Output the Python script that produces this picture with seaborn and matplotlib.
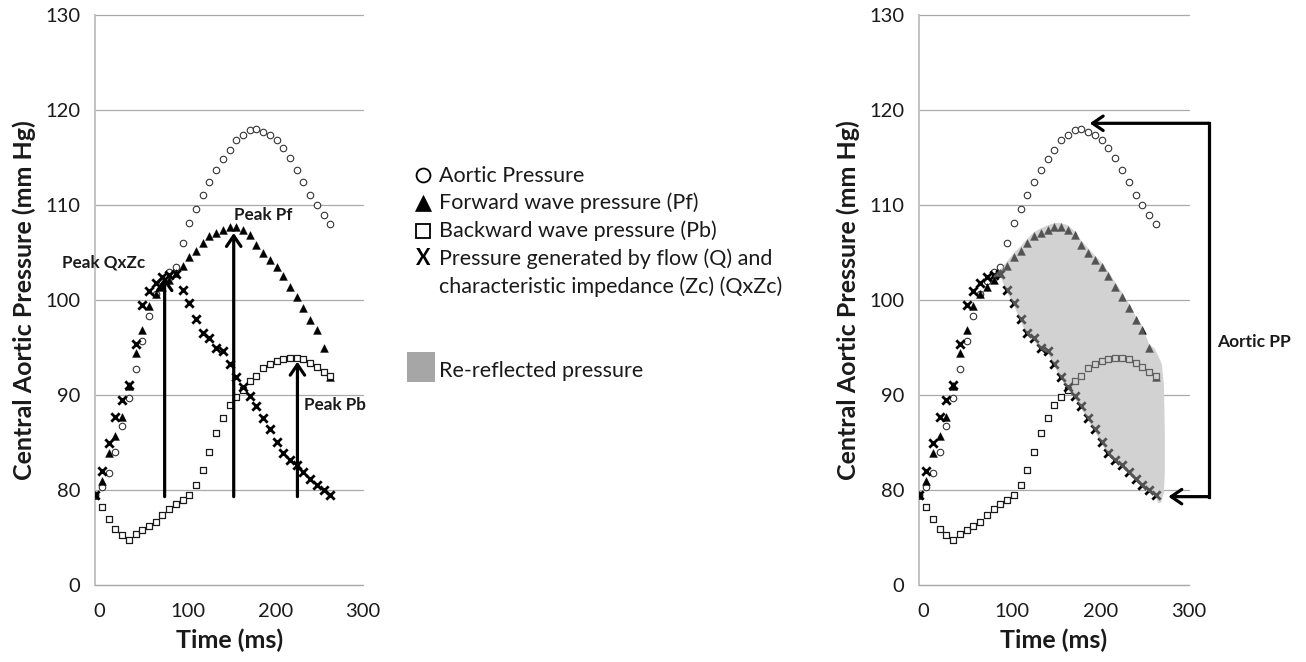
import numpy as np
import pandas as pd
import matplotlib
matplotlib.use("Agg")
import matplotlib.pyplot as plt
import seaborn as sns
from matplotlib.patches import Polygon, Rectangle

# ---------------- data ----------------
time_ms = [-5.0, 2.6, 10.3, 17.9, 25.6, 33.2, 40.9, 48.5, 56.2, 63.8, 71.5, 79.1,
           86.8, 94.4, 102.1, 109.7, 117.4, 125.0, 132.7, 140.3, 148.0, 155.6,
           163.3, 170.9, 178.6, 186.2, 193.9, 201.5, 209.2, 216.8, 224.5, 232.1,
           239.8, 247.4, 255.1, 262.7]
aortic = [79.5, 80.35, 81.8, 84.0, 86.7, 89.65, 92.7, 95.7, 98.3, 100.6, 102.0, 103.0,
          103.5, 106.0, 108.1, 109.55, 111.1, 112.4, 113.65, 114.8, 115.8, 116.8,
          117.4, 117.9, 118.0, 117.7, 117.4, 116.8, 116.0, 114.9, 113.7, 112.4,
          111.1, 110.0, 108.9, 108.0]
forward = [79.5, 80.95, 83.9, 85.7, 87.65, 90.95, 94.45, 96.8, 99.4, 100.6, 101.4, 102.1,
           102.8, 103.6, 104.5, 105.2, 106.0, 106.7, 107.1, 107.4, 107.65, 107.65,
           107.4, 106.8, 105.75, 105.0, 104.2, 103.5, 102.5, 101.4, 100.35, 99.2,
           97.9, 96.8, 94.9, 91.9]
backward = [79.5, 78.2, 76.9, 75.9, 75.3, 74.7, 75.4, 75.8, 76.2, 76.6, 77.4, 78.0,
            78.5, 79.0, 79.5, 80.5, 82.1, 84.0, 86.0, 87.55, 89.0, 89.75, 90.5, 91.5,
            92.0, 92.8, 93.3, 93.6, 93.75, 93.85, 93.85, 93.8, 93.4, 92.9, 92.45, 92.0]
qxzc = [79.5, 82.0, 84.9, 87.65, 89.5, 91.1, 95.4, 99.5, 100.95, 101.8, 102.4, 102.6,
        102.7, 101.05, 99.7, 98.0, 96.5, 95.97, 94.98, 94.66, 93.3, 91.9, 90.8, 89.9,
        88.8, 87.55, 86.4, 85.1, 83.9, 83.2, 82.6, 81.9, 81.2, 80.5, 80.0, 79.5]

y_ticks = [70, 80, 90, 100, 110, 120, 130]
y_ticklabels = ["0", "80", "90", "100", "110", "120", "130"]
x_ticks = [0, 100, 200, 300]

legend_labels = ["Aortic Pressure", "Forward wave pressure (Pf)",
                 "Backward wave pressure (Pb)", "Pressure generated by flow (Q) and",
                 "characteristic impedance (Zc) (QxZc)"]
shade_label = "Re-reflected pressure"

df = pd.DataFrame({"time": time_ms, "aortic": aortic, "forward": forward,
                   "backward": backward, "qxzc": qxzc})

# ---------------- style ----------------
sns.set_theme(style="white")
plt.rcParams["font.family"] = ["Lato", "DejaVu Sans"]
TXT = "#1a1a1a"

W, H = 1306, 662
fig = plt.figure(figsize=(W / 100, H / 100), dpi=100)
fig.patch.set_facecolor("white")


def axes_px(x0, x1, y_top, y_bot):
    return fig.add_axes([x0 / W, 1 - y_bot / H, (x1 - x0) / W, (y_bot - y_top) / H])


ax1 = axes_px(95.3, 363.0, 15, 585)
ax2 = axes_px(919.3, 1188.7, 15, 585)

for ax in (ax1, ax2):
    sns.scatterplot(data=df, x="time", y="aortic", marker="o", s=22,
                    facecolor="white", edgecolor="#333333", linewidth=0.8,
                    ax=ax, zorder=3, legend=False)
    sns.scatterplot(data=df, x="time", y="forward", marker="^", s=32,
                    color="black", edgecolor="black", linewidth=0.3,
                    ax=ax, zorder=3, legend=False)
    sns.scatterplot(data=df, x="time", y="backward", marker="s", s=21,
                    facecolor="white", edgecolor="#1a1a1a", linewidth=0.9,
                    ax=ax, zorder=3, legend=False)
    sns.scatterplot(data=df, x="time", y="qxzc", marker="x", s=36,
                    color="black", linewidth=2.0, ax=ax, zorder=3, legend=False)

    ax.set_xlim(-5, 300)
    ax.set_ylim(70, 130)
    ax.set_yticks(y_ticks)
    ax.set_yticklabels(y_ticklabels)
    ax.set_xticks(x_ticks)
    ax.tick_params(axis="both", length=0, labelsize=14.5, colors=TXT)
    ax.tick_params(axis="y", pad=11)
    ax.tick_params(axis="x", pad=13)
    ax.grid(axis="y", color="#a9a9a9", linewidth=0.9)
    ax.grid(axis="x", visible=False)
    ax.set_axisbelow(True)
    for gl in ax.yaxis.get_gridlines():
        gl.set_clip_on(False)
    for s in ("top", "right"):
        ax.spines[s].set_visible(False)
    ax.spines["left"].set_color("#bdbdbd")
    ax.spines["left"].set_linewidth(1.3)
    ax.spines["bottom"].set_color("#a9a9a9")
    ax.spines["bottom"].set_linewidth(0.9)
    ax.set_facecolor("none")
    ax.set_xlabel("Time (ms)", fontsize=18, fontweight="bold", color=TXT)
    ax.set_ylabel("Central Aortic Pressure (mm Hg)", fontsize=18,
                  fontweight="bold", color=TXT)
    wpx = ax.get_position().width * W
    ax.yaxis.set_label_coords(-59.0 / wpx, 0.5)
    ax.xaxis.set_label_coords(0.5, -0.077)

# ---------------- left panel annotations ----------------
arrow_kw = dict(arrowstyle="->,head_length=0.38,head_width=0.26", lw=2.3,
                color="black", shrinkA=0, shrinkB=0, mutation_scale=20)
for tx, ytip in [(74.0, 102.4), (152.7, 107.05), (225.3, 93.5)]:
    ax1.annotate("", xy=(tx, ytip), xytext=(tx, 79.3), arrowprops=arrow_kw,
                 annotation_clip=False, zorder=6)
ax1.text(4.5, 104.0, "Peak QxZc", fontsize=12.3, fontweight="bold", ha="center",
         va="center", color=TXT, zorder=7)
ax1.text(186.5, 108.9, "Peak Pf", fontsize=12.3, fontweight="bold", ha="center",
         va="center", color=TXT, zorder=7)
ax1.text(268.5, 89.0, "Peak Pb", fontsize=12.3, fontweight="bold", ha="center",
         va="center", color=TXT, zorder=7)

# ---------------- right panel shading ----------------
t = np.array(time_ms)
pf = np.array(forward)
qz = np.array(qxzc)
i0 = 11
t_end = t[-1]
upper = list(zip(t[i0:-1], pf[i0:-1] + 0.45))
cap_dt = [-1.5, 3.5, 7.0, 9.3, 10.3, 10.3, 9.3, 6.3, 2.8]
cap_v = [94.9, 94.0, 93.2, 91.0, 86.0, 82.0, 79.8, 78.7, 78.6]
cap = [(t_end + d, v) for d, v in zip(cap_dt, cap_v)]
lower = list(zip(t[i0:][::-1], qz[i0:][::-1] - 0.25))
verts = upper + cap + lower
ax2.add_patch(Polygon(verts, closed=True, facecolor="white", edgecolor="none",
                      zorder=2, joinstyle="round"))
ax2.add_patch(Polygon(verts, closed=True, facecolor="#a6a6a6", edgecolor="none",
                      alpha=0.5, zorder=4, joinstyle="round"))

# Aortic PP bracket
br_kw = dict(arrowstyle="->,head_length=0.38,head_width=0.26", lw=2.3,
             color="black", shrinkA=0, shrinkB=0, mutation_scale=20)
x_br = 323.0
ax2.plot([x_br, x_br], [118.6, 79.3], color="black", lw=2.3, clip_on=False,
         solid_capstyle="projecting", zorder=6)
ax2.annotate("", xy=(188.0, 118.6), xytext=(x_br, 118.6), arrowprops=br_kw,
             annotation_clip=False, zorder=6)
ax2.annotate("", xy=(277.0, 79.3), xytext=(x_br, 79.3), arrowprops=br_kw,
             annotation_clip=False, zorder=6)
ax2.text(332.0, 95.6, "Aortic PP", fontsize=12.5, fontweight="bold", ha="left",
         va="center", color=TXT, clip_on=False)

# ---------------- central legend ----------------
lax = fig.add_axes([0, 0, 1, 1])
lax.set_xlim(0, W)
lax.set_ylim(H, 0)
lax.axis("off")
mx = 422.7
lax.plot([mx], [175.0], marker="o", ms=10, mfc="white", mec="black", mew=1.3, ls="none")
lax.plot([mx], [202.7], marker="^", ms=11, mfc="black", mec="black", mew=0.5, ls="none")
lax.plot([mx], [230.7], marker="s", ms=10.5, mfc="white", mec="black", mew=1.3, ls="none")
lax.text(mx, 265.0, "X", fontsize=15.5, fontweight="bold", ha="center",
         va="baseline", color="black")
lax.add_patch(Rectangle((406.7, 351.7), 28.3, 30.6, facecolor="#a6a6a6",
                        edgecolor="none"))
tx0 = 439.3
for lbl, yb in zip(legend_labels, [181.7, 209.4, 237.4, 265.0, 293.4]):
    lax.text(tx0, yb, lbl, fontsize=15.5, ha="left", va="baseline", color=TXT)
lax.text(tx0, 376.7, shade_label, fontsize=15.5, ha="left", va="baseline", color=TXT)

fig.savefig("out.png", dpi=100, facecolor="white")
